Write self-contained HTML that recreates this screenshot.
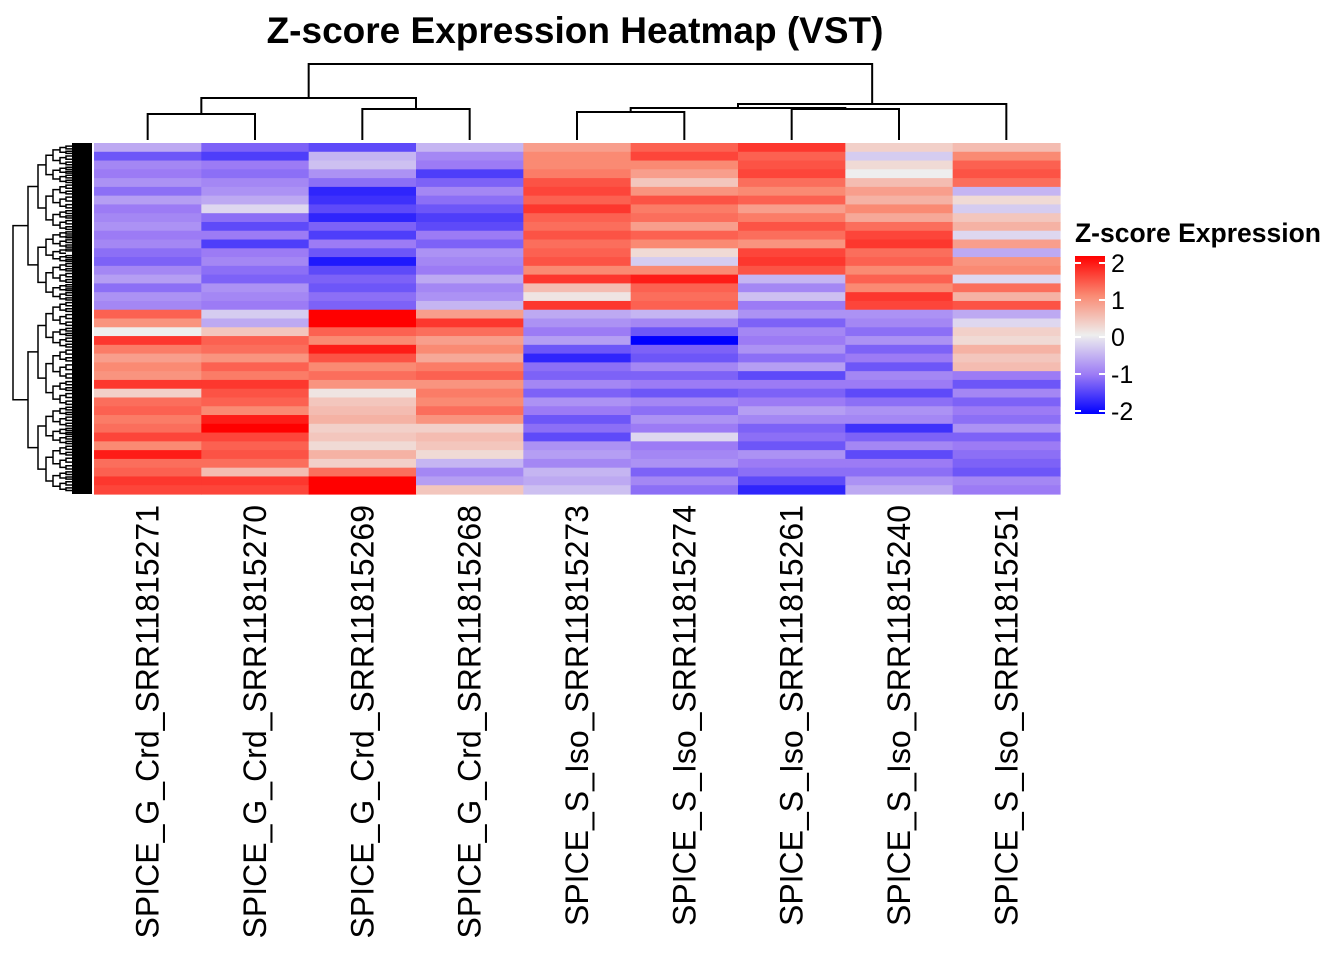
<!DOCTYPE html>
<html><head><meta charset="utf-8"><style>
body{margin:0;background:#fff;}
svg{display:block;font-family:"Liberation Sans",Arial,sans-serif;}
</style></head><body>
<svg id="chart" width="1344" height="960" viewBox="0 0 1344 960">
<text x="575" y="43" text-anchor="middle" font-size="37" font-weight="bold">Z-score Expression Heatmap (VST)</text>
<g id="cells"></g>
<g id="coldend" stroke="#000" stroke-width="2" fill="none"></g>
<g id="rowdend" stroke="#000" stroke-width="1.5" fill="none"></g>
<g id="labels"></g>
<g id="legend">
<text x="1075" y="242" font-size="26.5" font-weight="bold">Z-score Expression</text>
<defs><linearGradient id="lg" x1="0" y1="0" x2="0" y2="1">
<stop offset="0" stop-color="#ff0000"/><stop offset="0.25" stop-color="#fa8a73"/><stop offset="0.5" stop-color="#eeeeee"/><stop offset="0.75" stop-color="#9c7bf5"/><stop offset="1" stop-color="#0000ff"/></linearGradient></defs>
<rect x="1075" y="256" width="30" height="158" fill="url(#lg)"/>
</g>
</svg>
<script>
const columns = ["SPICE_G_Crd_SRR11815271","SPICE_G_Crd_SRR11815270","SPICE_G_Crd_SRR11815269","SPICE_G_Crd_SRR11815268","SPICE_S_Iso_SRR11815273","SPICE_S_Iso_SRR11815274","SPICE_S_Iso_SRR11815261","SPICE_S_Iso_SRR11815240","SPICE_S_Iso_SRR11815251"];
const legendTicks = [2,1,0,-1,-2];
const zValues = [
[-0.6,-1.2,-1.4,-0.5,0.8,1.3,1.6,0.3,0.5],
[-1.3,-1.5,-0.5,-0.9,1.0,1.5,1.3,-0.3,1.0],
[-0.9,-1.0,-0.4,-1.0,1.0,1.0,1.4,0.2,1.3],
[-1.0,-1.1,-0.8,-1.5,1.1,0.8,1.5,0.0,1.4],
[-0.8,-0.9,-1.1,-1.2,1.4,0.4,1.2,0.5,1.2],
[-1.1,-0.8,-1.7,-0.9,1.5,0.9,1.0,0.8,-0.5],
[-0.7,-0.6,-1.6,-1.1,1.3,1.4,1.3,0.6,0.2],
[-1.0,-0.2,-1.4,-1.3,1.6,1.1,0.8,1.0,-0.3],
[-0.9,-1.1,-1.7,-1.5,1.3,1.2,1.1,0.7,0.4],
[-0.8,-1.4,-1.2,-1.4,1.2,0.8,1.4,1.2,0.6],
[-1.0,-1.0,-1.5,-1.0,1.4,1.3,1.2,1.5,-0.2],
[-0.9,-1.5,-1.0,-1.2,1.2,1.0,0.9,1.6,0.8],
[-1.1,-1.0,-1.3,-0.8,1.3,0.2,1.5,1.2,-0.6],
[-1.2,-0.9,-1.8,-0.9,1.4,-0.3,1.6,1.3,0.9],
[-0.9,-1.1,-1.4,-1.0,1.0,1.0,1.4,1.0,1.0],
[-0.7,-1.2,-1.2,-0.6,1.6,1.8,-0.5,1.3,-0.2],
[-1.1,-0.8,-1.3,-0.9,0.5,1.3,-0.9,1.0,1.2],
[-0.8,-0.9,-1.1,-0.8,0.1,1.2,-0.4,1.6,0.6],
[-0.9,-1.0,-1.2,-0.5,1.6,1.3,-1.0,1.5,1.4],
[1.3,-0.3,2.0,0.8,-0.6,-0.5,-0.8,-0.8,-0.6],
[0.9,-0.6,2.0,1.6,-0.8,-0.9,-1.2,-0.9,-0.2],
[0.0,0.4,1.3,1.2,-1.0,-1.3,-0.9,-1.1,0.3],
[1.6,1.3,1.0,0.8,-0.7,-2.0,-1.0,-0.8,0.2],
[1.1,1.2,1.8,1.0,-1.3,-1.2,-0.8,-1.2,0.6],
[0.8,0.9,1.4,0.7,-1.7,-1.3,-1.1,-1.0,0.4],
[1.0,1.3,1.0,1.1,-1.1,-0.9,-0.7,-1.3,0.5],
[0.9,1.1,1.2,1.3,-1.2,-1.2,-1.4,-0.9,-1.0],
[1.6,1.6,0.9,0.9,-0.9,-1.0,-1.0,-1.0,-1.3],
[0.3,1.4,0.1,1.1,-1.2,-1.3,-1.2,-1.4,-0.9],
[1.2,1.3,0.4,1.0,-0.8,-0.9,-1.0,-1.1,-1.2],
[1.3,1.0,0.5,1.2,-1.0,-1.1,-0.7,-0.8,-1.0],
[1.1,1.8,0.6,0.9,-1.3,-0.8,-0.9,-0.9,-1.1],
[1.2,2.0,0.3,0.3,-1.1,-1.0,-1.2,-1.6,-0.8],
[1.5,1.5,0.4,0.5,-1.4,-0.2,-1.1,-1.2,-1.2],
[1.0,1.3,0.2,0.4,-0.8,-1.0,-1.3,-0.9,-1.0],
[1.8,1.4,0.6,0.2,-0.7,-0.9,-0.8,-1.4,-1.1],
[1.2,1.2,0.3,-0.5,-0.9,-0.8,-1.0,-1.0,-1.2],
[1.3,0.5,1.2,-0.9,-0.5,-1.2,-1.1,-1.1,-1.3],
[1.6,1.6,2.0,-0.7,-0.6,-0.9,-1.4,-0.8,-0.9],
[1.5,1.5,2.0,0.4,-0.4,-1.1,-1.7,-0.6,-1.0]
];
// column dendrogram merge heights (pixel y of merge bars, derived from picture)
const colMergeHeights = [114,109,98,112,109,108,104,64];

const NS="http://www.w3.org/2000/svg";
const X0=94,X1=1060,Y0=143,Y1=494;
const cw=(X1-X0)/columns.length, rh=(Y1-Y0)/zValues.length;
const xPos=i=>X0+i*cw, yPos=j=>Y0+j*rh;
const stops=[[-2,[0,0,255]],[-1,[156,123,245]],[0,[238,238,238]],[1,[250,138,115]],[2,[255,0,0]]];
function color(v){v=Math.max(-2,Math.min(2,v));for(let k=0;k<4;k++){const a=stops[k],b=stops[k+1];if(v<=b[0]){const t=(v-a[0])/(b[0]-a[0]);const c=a[1].map((x,i)=>Math.round(x+(b[1][i]-x)*t));return `rgb(${c})`;}}return "red";}
const cells=document.getElementById('cells');
zValues.forEach((row,j)=>row.forEach((v,i)=>{
 const r=document.createElementNS(NS,'rect');
 r.setAttribute('x',xPos(i));r.setAttribute('y',yPos(j));
 r.setAttribute('width',cw+0.6);r.setAttribute('height',rh+0.6);
 r.setAttribute('fill',color(v));
 
 
 cells.appendChild(r);
}));
// labels
const lab=document.getElementById('labels');
columns.forEach((c,i)=>{
 const t=document.createElementNS(NS,'text');
 const cx=xPos(i)+cw/2+11;
 t.setAttribute('transform',`translate(${cx},505) rotate(-90)`);
 t.setAttribute('text-anchor','end');t.setAttribute('font-size','32');
 t.textContent=c;
 
 
 lab.appendChild(t);
});
// legend ticks
const leg=document.getElementById('legend');
legendTicks.forEach(v=>{
 const y=337-v*37;
 const p=document.createElementNS(NS,'path');
 p.setAttribute('d',`M1075 ${y}H1081M1099 ${y}H1105`);p.setAttribute('stroke','#fff');p.setAttribute('stroke-width','2');
 
 
 leg.appendChild(p);
 const t=document.createElementNS(NS,'text');
 t.setAttribute('x',1111);t.setAttribute('y',y+9);t.setAttribute('font-size','25');
 t.textContent=v<0?'-'+Math.abs(v):String(v);
 
 
 leg.appendChild(t);
});
// column dendrogram
const cd=document.getElementById('coldend');
const cx=i=>xPos(i)+cw/2;
function uline(xa,ya,xb,yb,h){const p=document.createElementNS(NS,'path');p.setAttribute('d',`M${xa} ${ya}V${h}H${xb}V${yb}`);
 
 
 cd.appendChild(p);}
const leafY=140,H=colMergeHeights;
uline(cx(0),leafY,cx(1),leafY,H[0]);
uline(cx(2),leafY,cx(3),leafY,H[1]);
const a=(cx(0)+cx(1))/2,b=(cx(2)+cx(3))/2;uline(a,H[0],b,H[1],H[2]);
uline(cx(4),leafY,cx(5),leafY,H[3]);
uline(cx(6),leafY,cx(7),leafY,H[4]);
const c=(cx(4)+cx(5))/2,d=(cx(6)+cx(7))/2;uline(c,H[3],d,H[4],H[5]);
const e=(c+d)/2;uline(e,H[5],cx(8),leafY,H[6]);
const f=(e+cx(8))/2;uline((a+b)/2,H[2],f,H[6],H[7]);
// row dendrogram (schematic)
const rd=document.getElementById('rowdend');
const levels=[13,28,38,46,53,60,66,72];
function tree(y0,y1,lv){
 const mid=(y0+y1)/2;
 if(lv>=levels.length-1||y1-y0<3){return mid;}
 const s=y0+(y1-y0)*(0.45+0.1*((lv%2)?1:0));
 const m1=tree(y0,s,lv+1),m2=tree(s,y1,lv+1);
 const x=levels[lv],xn=levels[lv+1];
 const p=document.createElementNS(NS,'path');
 p.setAttribute('d',`M${xn} ${m1}H${x}V${m2}H${xn}`);
 
 
 rd.appendChild(p);
 return (m1+m2)/2;
}
tree(Y0+2,Y1-2,0);
const blk=document.createElementNS(NS,'rect');
blk.setAttribute('x',72);blk.setAttribute('y',Y0);blk.setAttribute('width',20);blk.setAttribute('height',Y1-Y0);blk.setAttribute('fill','#000');blk.setAttribute('stroke','none');


rd.appendChild(blk);
</script>
</body></html>
